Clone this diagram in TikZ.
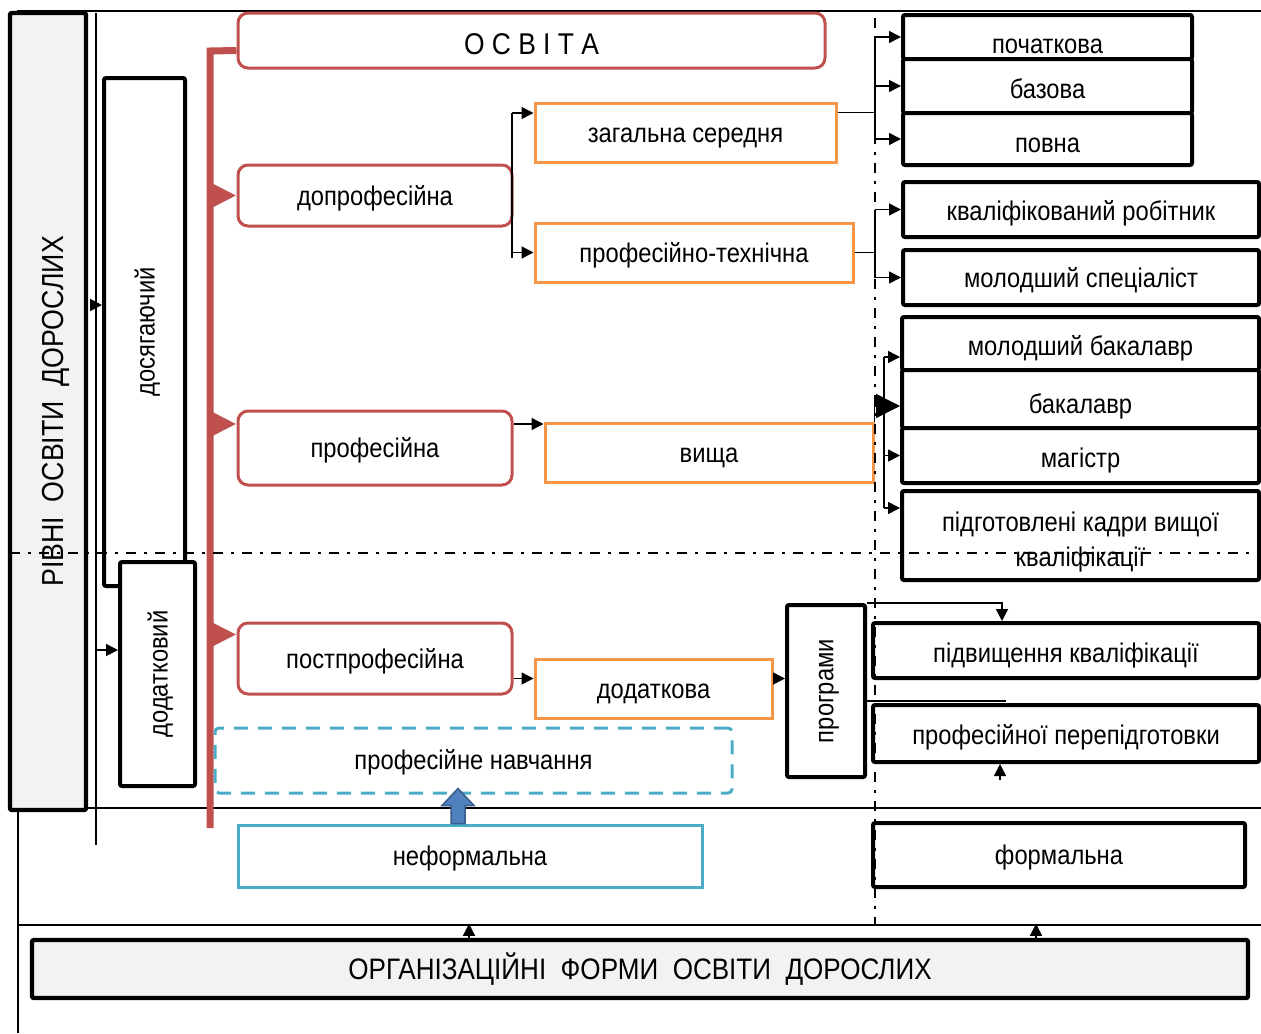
\documentclass[tikz,border=0pt]{standalone}
\usepackage{fontspec}
\setmainfont{Liberation Sans}[FakeStretch=0.88]
\usepackage{tikz}
\usetikzlibrary{
  arrows.meta,
  positioning
}
\definecolor{eduRed}{HTML}{C0504D}
\definecolor{eduOrange}{HTML}{F79646}
\definecolor{eduBlue}{HTML}{4BACC6}
\definecolor{eduArrow}{HTML}{4F81BD}
\definecolor{eduArrowLine}{HTML}{385D8A}
\definecolor{eduGray}{HTML}{F2F2F2}

\newcommand{\uptext}[1]{\rotatebox{90}{\raisebox{0pt}[\height][0pt]{#1}}}

\tikzset{
  sz/.style 2 args={minimum width=#1*0.5pt, minimum height=#2*0.5pt},
  basebox/.style={rectangle, inner sep=1pt, align=center, font=\fontsize{13.5}{16.5}\selectfont},
  blackbox/.style={basebox, draw=black, line width=2pt, rounded corners=1pt, fill=white},
  graybox/.style={basebox, draw=black, line width=2.2pt, rounded corners=1pt, fill=eduGray},
  redbox/.style={basebox, draw=eduRed, line width=1.5pt, rounded corners=5pt, fill=white},
  orangebox/.style={basebox, draw=eduOrange, line width=1.5pt, fill=white},
  bluebox/.style={basebox, draw=eduBlue, line width=1.5pt, fill=white},
  dashbox/.style={basebox, draw=eduBlue, line width=1.5pt, dash pattern=on 7pt off 5pt, rounded corners=2pt},
  sunk/.style={text height=#1, text depth=0pt},
  sunk/.default=9.5pt,
  thinline/.style={line width=0.75pt},
  arr/.style={thinline, -{Triangle[length=6pt,width=6pt]}},
  bigarr/.style={thinline, -{Triangle[length=12pt,width=12pt]}},
  redarr/.style={draw=eduRed, line width=3.5pt, -{Triangle[length=12pt,width=11pt]}},
  dashdot/.style={line width=1pt, dash pattern=on 5pt off 4pt on 1.5pt off 4pt}
}

\begin{document}
\begin{tikzpicture}[x=0.5pt, y=-0.5pt]
  \useasboundingbox (0,0) rectangle (1261,1033);
  % frame lines
  \draw[thinline] (17,11) -- (1261,11);
  \draw[thinline] (18,11) -- (18,1033);
  \draw[thinline] (18,925) -- (1261,925);
  \draw[thinline] (86,808) -- (1261,808);
  \coordinate (vtop) at (96,13);
  \coordinate (vbot) at (96,845);
  \draw[thinline] (vtop) -- (vbot);

  % levels of adult education
  \node[graybox, sz={76}{797}, font=\fontsize{15.2}{18}\selectfont] (rivni) at (48,411.5)
    {\rotatebox{90}{\raisebox{0pt}[\dimexpr\height+5pt][0pt]{РІВНІ\ \ ОСВІТИ\ \ ДОРОСЛИХ}}};
  \node[blackbox, sz={81}{508}] (dosyah) at (144.5,332) {\uptext{досягаючий}};
  \node[blackbox, sz={75}{224}] (dodat) at (157.5,674) {\uptext{додатковий}};
  \coordinate (dosyahin) at ([yshift=13.5pt]dosyah.west);
  \draw[arr] (vtop |- dosyahin) -- (dosyahin);
  \coordinate (dodatin) at ([yshift=12pt]dodat.west);
  \draw[arr] (vtop |- dodatin) -- (dodatin);

  % red trunk
  \node[redbox, sz={587}{55}, sunk=14pt, font=\fontsize{15}{18}\selectfont] (osvita) at (531.5,40.5) {О С В І Т А};
  \coordinate (trunktop) at (210,51);
  \coordinate (trunkbot) at (210,828);
  \draw[eduRed, line width=3.5pt] ([yshift=-5pt]osvita.west) -- (trunktop) -- (trunkbot);
  \node[redbox, sz={274}{61}, sunk] (doprof) at (375,195.5) {допрофесійна};
  \node[redbox, sz={274}{74}, sunk] (prof) at (375,448) {професійна};
  \node[redbox, sz={274}{71}, sunk] (postprof) at (375,658.5) {постпрофесійна};
  \coordinate (profin) at ([yshift=12pt]prof.west);
  \coordinate (postin) at ([yshift=12pt]postprof.west);
  \draw[redarr] (trunktop |- doprof.west) -- (doprof.west);
  \draw[redarr] (trunktop |- profin) -- (profin);
  \draw[redarr] (trunktop |- postin) -- (postin);

  % kinds
  \node[orangebox, sz={301}{59}, sunk] (zahal) at (685.5,132.5) {загальна середня};
  \node[orangebox, sz={318}{59}, sunk] (proftekh) at (694,252.5) {професійно-технічна};
  \node[orangebox, sz={328}{59}, sunk] (vyshcha) at (709,452.5) {вища};
  \node[orangebox, sz={237}{59}, sunk=10pt] (dodatkova) at (653.5,688.5) {додаткова};
  \node[dashbox, sz={517}{65}, sunk=9pt] (navch) at (473.5,760.5) {професійне навчання};
  \node[bluebox, sz={464}{62}, sunk] (neform) at (470,856) {неформальна};
  \node[blackbox, sz={78}{172}] (prohramy) at (826,691) {\uptext{програми}};

  \coordinate (fork1) at (512,113);
  \coordinate (fork1end) at (512,258);
  \draw[thinline] (fork1) -- (fork1end);
  \draw[arr] (fork1) -- (fork1 -| zahal.west);
  \draw[arr] (fork1 |- proftekh.west) -- (proftekh.west);
  \coordinate (profout) at ([yshift=12pt]prof.east);
  \draw[arr] (profout) -- (profout -| vyshcha.west);
  \coordinate (postout) at ([yshift=-10pt]postprof.east);
  \draw[arr] (postout) -- (postout -| dodatkova.west);
  \coordinate (dodout) at ([yshift=5pt]dodatkova.east);
  \draw[arr] (dodout) -- (dodout -| prohramy.west);

  % results
  \node[blackbox, sz={289}{44}, sunk=16pt, inner ysep=0pt] (pochat) at (1047.5,37) {початкова};
  \node[blackbox, sz={289}{54}, sunk=12pt] (bazova) at (1047.5,86) {базова};
  \node[blackbox, sz={289}{52}, sunk=13pt] (povna) at (1047.5,139) {повна};
  \node[blackbox, sz={356}{55}, sunk=10.5pt] (kvalrob) at (1081,209.5) {кваліфікований робітник};
  \node[blackbox, sz={356}{55}, sunk=10pt] (molspec) at (1081,277.5) {молодший спеціаліст};
  \node[blackbox, sz={357}{53}, sunk=11.5pt] (molbak) at (1080.5,343.5) {молодший бакалавр};
  \node[blackbox, sz={357}{58}, sunk=14pt] (bakal) at (1080.5,399) {бакалавр};
  \node[blackbox, sz={357}{55}, sunk=11.5pt] (mahistr) at (1080.5,455.5) {магістр};
  \node[blackbox, sz={357}{89}, font=\fontsize{13.5}{17.5}\selectfont] (kadry) at (1080.5,535.5)
    {\rule{0pt}{16pt}підготовлені кадри вищої\\кваліфікації};
  \node[blackbox, sz={386}{55}, sunk=11.5pt] (pidvyshch) at (1066,650.5) {підвищення кваліфікації};
  \node[blackbox, sz={386}{57}, sunk=10.5pt] (pereprof) at (1066,733.5) {професійної перепідготовки};
  \node[blackbox, sz={372}{64}, sunk=9pt] (formal) at (1059,855) {формальна};

  \coordinate (fork2) at (875,33);
  \coordinate (zahalout) at ([yshift=10pt]zahal.east);
  \draw[thinline] (zahalout) -- (fork2 |- zahalout);
  \draw[thinline] (fork2 |- pochat.west) -- (fork2 |- povna.west);
  \draw[arr] (fork2 |- pochat.west) -- (pochat.west);
  \draw[arr] (fork2 |- bazova.west) -- (bazova.west);
  \draw[arr] (fork2 |- povna.west) -- (povna.west);
  \draw[thinline] (proftekh.east) -- (fork2 |- proftekh.east);
  \draw[thinline] (fork2 |- kvalrob.west) -- (fork2 |- molspec.west);
  \draw[arr] (fork2 |- kvalrob.west) -- (kvalrob.west);
  \draw[arr] (fork2 |- molspec.west) -- (molspec.west);

  \coordinate (fork4) at (884,357);
  \coordinate (fork4end) at (884,508);
  \draw[thinline] (fork4) -- (fork4end);
  \draw[arr] (fork4) -- (fork4 -| molbak.west);
  \draw[arr] (fork4 |- mahistr.west) -- (mahistr.west);
  \draw[arr] (fork4end) -- (fork4end -| kadry.west);
  \draw[bigarr] (vyshcha.north east) |- ([yshift=-3.5pt]bakal.west);

  \draw[arr] (prohramy.north east) -| ([xshift=-32pt]pidvyshch.north);
  \draw[thinline] ([xshift=-2pt,yshift=1pt]pereprof.north west) -- ([xshift=-30pt,yshift=1pt]pereprof.north);
  \coordinate (perein) at ([xshift=-33pt]pereprof.south);
  \draw[arr] ([yshift=-8pt]perein) -- (perein);

  % organisational forms
  \node[graybox, sz={1216}{58}, font=\fontsize{14.8}{17}\selectfont] (orgform) at (640,969)
    {ОРГАНІЗАЦІЙНІ\ \ ФОРМИ\ \ ОСВІТИ\ \ ДОРОСЛИХ};
  \coordinate (orgleft) at ([xshift=-85.5pt]orgform.north);
  \coordinate (orgright) at ([xshift=198pt]orgform.north);
  \draw[arr] (orgleft) -- ++(0,-14);
  \draw[arr] (orgright) -- ++(0,-14);

  % block arrow from informal
  \coordinate (nfout) at ([xshift=-6pt]neform.north);
  \filldraw[fill=eduArrow, draw=eduArrowLine, line width=0.75pt]
    (nfout) ++(-7,0) -- ++(0,-18) -- ++(-9,0) -- ++(16,-17) -- ++(16,17) -- ++(-9,0) -- ++(0,18) -- cycle;

  % dash-dot dividers
  \draw[dashdot] (10,553) -- (1261,553);
  \draw[dashdot] (875,18) -- (875,925);
\end{tikzpicture}
\end{document}
